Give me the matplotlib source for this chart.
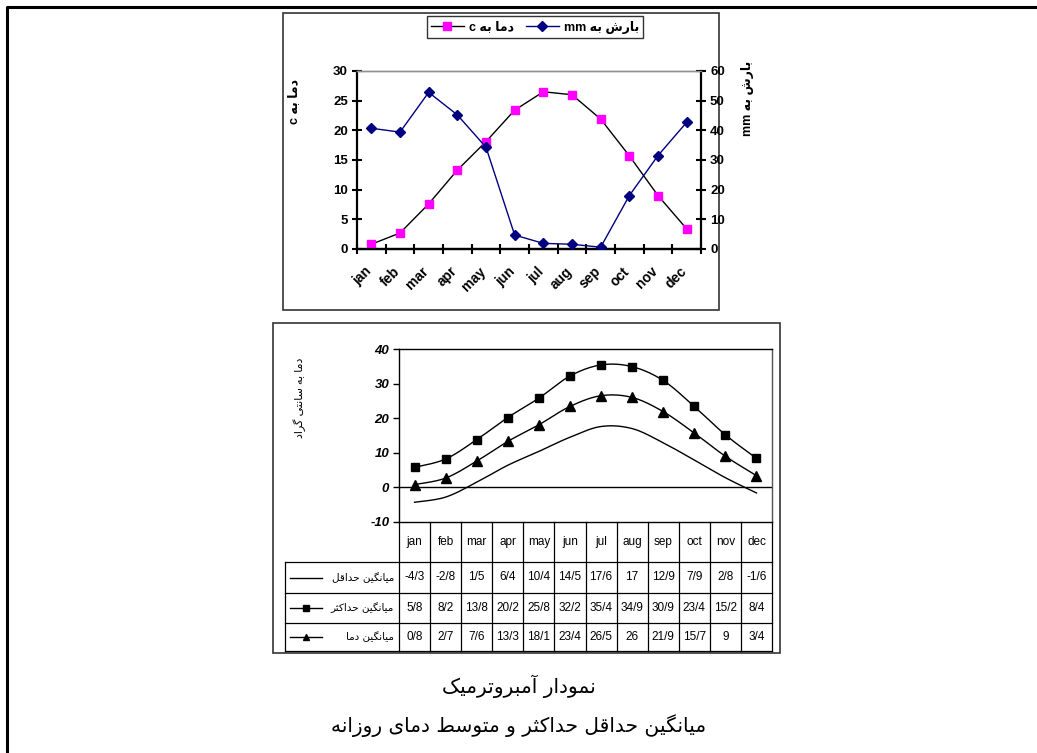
import numpy as np
import matplotlib
matplotlib.use("Agg")
import matplotlib.pyplot as plt
import matplotlib.transforms as mtransforms
from matplotlib.lines import Line2D
from matplotlib.patches import Rectangle

plt.rcParams['font.family'] = ['Liberation Sans', 'DejaVu Sans']
plt.rcParams['axes.unicode_minus'] = False

W, H = 1037, 753

months = ['jan', 'feb', 'mar', 'apr', 'may', 'jun', 'jul', 'aug', 'sep', 'oct', 'nov', 'dec']

# monthly climate data
temp_mean = [0.8, 2.7, 7.6, 13.3, 18.1, 23.4, 26.5, 26.0, 21.9, 15.7, 9.0, 3.4]
precip_mm = [40.7, 39.4, 52.8, 45.2, 34.3, 4.7, 1.9, 1.6, 0.6, 18.0, 31.5, 42.7]
temp_min = [-4.3, -2.8, 1.5, 6.4, 10.4, 14.5, 17.6, 17.0, 12.9, 7.9, 2.8, -1.6]
temp_max = [5.8, 8.2, 13.8, 20.2, 25.8, 32.2, 35.4, 34.9, 30.9, 23.4, 15.2, 8.4]

row_names = ['میانگین حداقل', 'میانگین حداکثر', 'میانگین دما']
caption_1 = 'نمودار آمبروترمیک'
caption_2 = 'میانگین حداقل حداکثر و متوسط دمای روزانه'

# --- simple Persian shaping (presentation forms) + right-to-left ordering ---
FORMS = {
    'ا': ('\uFE8D', '\uFE8E'), 'آ': ('\uFE81', '\uFE82'),
    'د': ('\uFEA9', '\uFEAA'), 'ر': ('\uFEAD', '\uFEAE'),
    'ز': ('\uFEAF', '\uFEB0'), 'و': ('\uFEED', '\uFEEE'),
    'ب': ('\uFE8F', '\uFE90', '\uFE91', '\uFE92'),
    'ت': ('\uFE95', '\uFE96', '\uFE97', '\uFE98'),
    'ث': ('\uFE99', '\uFE9A', '\uFE9B', '\uFE9C'),
    'ح': ('\uFEA1', '\uFEA2', '\uFEA3', '\uFEA4'),
    'س': ('\uFEB1', '\uFEB2', '\uFEB3', '\uFEB4'),
    'ش': ('\uFEB5', '\uFEB6', '\uFEB7', '\uFEB8'),
    'ط': ('\uFEC1', '\uFEC2', '\uFEC3', '\uFEC4'),
    'ق': ('\uFED5', '\uFED6', '\uFED7', '\uFED8'),
    'ل': ('\uFEDD', '\uFEDE', '\uFEDF', '\uFEE0'),
    'م': ('\uFEE1', '\uFEE2', '\uFEE3', '\uFEE4'),
    'ن': ('\uFEE5', '\uFEE6', '\uFEE7', '\uFEE8'),
    'ه': ('\uFEE9', '\uFEEA', '\uFEEB', '\uFEEC'),
    'ی': ('\uFBFC', '\uFBFD', '\uFBFE', '\uFBFF'),
    'ک': ('\uFB8E', '\uFB8F', '\uFB90', '\uFB91'),
    'گ': ('\uFB92', '\uFB93', '\uFB94', '\uFB95'),
}


def shape_word(w):
    out = []
    for i, ch in enumerate(w):
        if ch not in FORMS:
            out.append(ch)
            continue
        prev = w[i - 1] if i > 0 else None
        nxt = w[i + 1] if i + 1 < len(w) else None
        f = FORMS[ch]
        jp = prev in FORMS and len(FORMS[prev]) == 4
        jn = len(f) == 4 and nxt in FORMS
        if jp and jn:
            out.append(f[3])
        elif jp:
            out.append(f[1])
        elif jn:
            out.append(f[2])
        else:
            out.append(f[0])
    return ''.join(out)


def fa(text):
    words = []
    for w in reversed(text.split(' ')):
        if any(c in FORMS for c in w):
            words.append(shape_word(w)[::-1])
        else:
            words.append(w)
    return ' '.join(words)


def num(v):
    s = ('%.1f' % v).rstrip('0').rstrip('.')
    return s.replace('.', '/')


def smooth(xs, ys, n=20):
    # bezier smoothing through the points, like a spreadsheet "smoothed line"
    p = np.column_stack([xs, ys]).astype(float)
    pts = []
    for i in range(len(p) - 1):
        p0 = p[i - 1] if i > 0 else p[i]
        p3 = p[i + 2] if i + 2 < len(p) else p[i + 1]
        c1 = p[i] + (p[i + 1] - p0) / 6.0
        c2 = p[i + 1] - (p3 - p[i]) / 6.0
        t = np.linspace(0, 1, n)[:, None]
        seg = ((1 - t) ** 3) * p[i] + 3 * ((1 - t) ** 2) * t * c1 + 3 * (1 - t) * t ** 2 * c2 + t ** 3 * p[i + 1]
        pts.append(seg if i == 0 else seg[1:])
    pts = np.vstack(pts)
    return pts[:, 0], pts[:, 1]


fig = plt.figure(figsize=(W / 100, H / 100), dpi=100)
bg = fig.add_axes([0, 0, 1, 1], zorder=0)
bg.set_xlim(0, W)
bg.set_ylim(H, 0)
bg.axis('off')

# page frame and chart boxes
bg.plot([7, 7, W + 5], [H + 5, 7, 7], color='black', lw=2.2)
bg.add_patch(Rectangle((283, 13), 436, 297, fill=False, ec='#333333', lw=1.2))
bg.add_patch(Rectangle((273, 323), 507, 330, fill=False, ec='#333333', lw=1.2))


def fig_rect(x0, y0, x1, y1):
    return [x0 / W, 1 - y1 / H, (x1 - x0) / W, (y1 - y0) / H]


x = np.arange(12) + 0.5

# ---------------- top chart: temperature & precipitation ----------------
ax = fig.add_axes(fig_rect(357, 71, 701, 249), zorder=2)
ax.patch.set_alpha(0)
ax2 = ax.twinx()
ax2.patch.set_alpha(0)

ax.plot(x, temp_mean, color='black', lw=1, marker='s', ms=6, mfc='#ff00ff', mec='#ff00ff', zorder=3)
ax2.plot(x, precip_mm, color='#000080', lw=1, marker='D', ms=5, mfc='#000080', mec='#000080', zorder=3)

ax.set_xlim(0, 12)
ax.set_ylim(0, 30)
ax2.set_ylim(0, 60)
ax.set_yticks(np.arange(0, 31, 5))
ax2.set_yticks(np.arange(0, 61, 10))
ax.set_xticks(np.arange(13))
ax.set_xticklabels([])
ax.set_xticks(x, minor=True)
ax.set_xticklabels(months, minor=True, rotation=45, ha='right', va='top',
                   rotation_mode='anchor', fontweight='bold', fontsize=10)
ax.tick_params(axis='x', which='minor', length=0, pad=11)
ax.tick_params(axis='x', which='major', direction='inout', length=7, width=1.5)
ax.tick_params(axis='y', direction='inout', length=7, width=1.5, labelsize=9.5, pad=3)
ax2.tick_params(axis='y', direction='inout', length=7, width=1.5, labelsize=9.5, pad=3)
shift = mtransforms.ScaledTranslation(-5 / 72, 0, fig.dpi_scale_trans)
for lab in ax.get_xticklabels(minor=True):
    lab.set_transform(lab.get_transform() + shift)
for lab in ax.get_yticklabels() + ax2.get_yticklabels():
    lab.set_fontweight('bold')

for a in (ax, ax2):
    for s in ('left', 'right', 'bottom'):
        a.spines[s].set_linewidth(1.6)
    a.spines['top'].set_color('#909090')
    a.spines['top'].set_linewidth(1)
ax2.spines['left'].set_visible(False)
ax.spines['right'].set_visible(False)

fig.text(294 / W, 1 - 102 / H, fa('دما به c'), rotation=90, ha='center', va='center',
         fontsize=9, fontweight='bold')
fig.text(748 / W, 1 - 98 / H, fa('بارش به mm'), rotation=90, ha='center', va='center',
         fontsize=9, fontweight='bold')

handles = [Line2D([], [], color='black', lw=1, marker='s', ms=6, mfc='#ff00ff', mec='#ff00ff'),
           Line2D([], [], color='#000080', lw=1, marker='D', ms=5, mfc='#000080', mec='#000080')]
leg = fig.legend(handles, [fa('دما به c'), fa('بارش به mm')], ncol=2, loc='center',
                 bbox_to_anchor=(535 / W, 1 - 27 / H), frameon=True, fancybox=False,
                 edgecolor='black', handlelength=2.6, columnspacing=1.0, handletextpad=0.4,
                 borderpad=0.35, prop={'weight': 'bold', 'size': 9})
leg.get_frame().set_linewidth(1)

# ---------------- bottom chart: min / max / mean temperature ----------------
bx = fig.add_axes(fig_rect(399, 349, 772, 522), zorder=2)
bx.patch.set_alpha(0)
bx.set_xlim(0, 12)
bx.set_ylim(-10, 40)
bx.axhline(0, color='black', lw=1)

for vals, mk, ms in ((temp_max, 's', 6), (temp_mean, '^', 7), (temp_min, None, 0)):
    sx, sy = smooth(x, vals)
    bx.plot(sx, sy, color='black', lw=1)
    if mk:
        bx.plot(x, vals, ls='none', marker=mk, ms=ms, color='black')

bx.set_xticks([])
bx.set_yticks(np.arange(-10, 41, 10))
bx.tick_params(axis='y', direction='out', length=4, width=1, labelsize=9.5, pad=3)
for lab in bx.get_yticklabels():
    lab.set_fontweight('bold')
    lab.set_fontstyle('italic')
for s in bx.spines.values():
    s.set_linewidth(1)
bx.spines['right'].set_color('#555555')

fig.text(300 / W, 1 - 398 / H, fa('دما به سانتی گراد'), rotation=90, ha='center', va='center',
         fontsize=8)

# data table under the bottom chart
trans = mtransforms.blended_transform_factory(bx.transData, bg.transData)
row_lines = [562, 593, 623, 651]
for xb in range(13):
    bg.plot([xb, xb], [522, 651], color='black', lw=0.9, transform=trans)
for yl in row_lines:
    bg.plot([285, 772], [yl, yl], color='black', lw=0.9)
bg.plot([285, 285], [562, 651], color='black', lw=0.9)

for i, m in enumerate(months):
    bg.text(x[i], 542, m, ha='center', va='center', fontsize=8.5, transform=trans)

rows = [temp_min, temp_max, temp_mean]
markers = [None, 's', '^']
for r, (vals, name, mk) in enumerate(zip(rows, row_names, markers)):
    yc = (row_lines[r] + row_lines[r + 1]) / 2
    for i, v in enumerate(vals):
        bg.text(x[i], yc, num(v), ha='center', va='center', fontsize=8.5, transform=trans)
    bg.plot([290, 322], [yc, yc], color='black', lw=1)
    if mk:
        bg.plot([306], [yc], marker=mk, ms=5, color='black')
    bg.text(394, yc, fa(name), ha='right', va='center', fontsize=7.5, family='DejaVu Sans')

# captions
bg.text(519, 686, fa(caption_1), ha='center', va='center', fontsize=14.5, family='DejaVu Sans')
bg.text(519, 726, fa(caption_2), ha='center', va='center', fontsize=14.5, family='DejaVu Sans')

fig.savefig('out.png', dpi=100)
